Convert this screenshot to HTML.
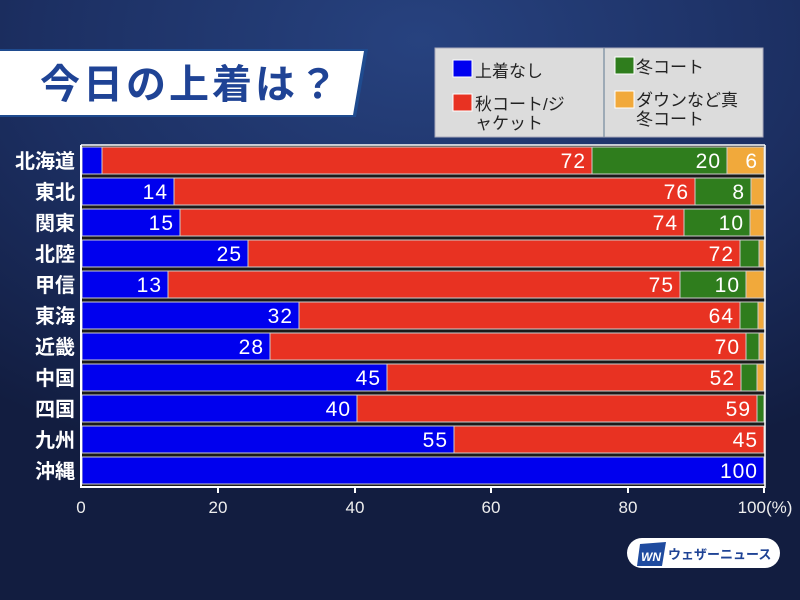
<!DOCTYPE html>
<html><head><meta charset="utf-8"><style>
body{margin:0;width:800px;height:600px;overflow:hidden;background:radial-gradient(ellipse 700px 450px at 420px 40px,#27427f 0%,#1c2f62 55%,#121d40 100%);font-family:"Liberation Sans","Noto Sans CJK JP",sans-serif;}
svg{position:absolute;left:0;top:0}
</style></head><body>
<svg width="800" height="600" xmlns="http://www.w3.org/2000/svg" font-family="Liberation Sans, Noto Sans CJK JP, sans-serif">
<polygon points="0,49 368,49 356,117 0,117" fill="#1f4b8f"/>
<polygon points="0,51 364,51 353,115 0,115" fill="#fff"/>
<text x="40" y="98" font-size="40" font-weight="bold" fill="#1f4395" letter-spacing="3">今日の上着は？</text>
<rect x="435" y="48" width="328" height="89" fill="#dcdcdc" stroke="#aab" stroke-width="1"/>
<line x1="604" y1="48" x2="604" y2="137" stroke="#8899aa" stroke-width="1.5"/>
<g font-size="17" fill="#222">
<rect x="453" y="60" width="19" height="17" fill="#0000f0" stroke="#fff"/><text x="475" y="77">上着なし</text>
<rect x="453" y="94" width="19" height="17" fill="#e83222" stroke="#fff"/><text x="475" y="110">秋コート/ジ</text><text x="475" y="129">ャケット</text>
<rect x="615" y="57" width="19" height="17" fill="#2f7d1d" stroke="#fff"/><text x="636" y="73">冬コート</text>
<rect x="615" y="91" width="19" height="17" fill="#f1a93b" stroke="#fff"/><text x="636" y="106">ダウンなど真</text><text x="636" y="125">冬コート</text>
</g>
<rect x="81" y="145" width="684" height="342" fill="#1a1a1a"/>
<g id="bars" stroke="#ccc" stroke-width="1"></g>
<g font-size="20" fill="#fff" text-anchor="end" font-weight="bold" id="lbl"></g>
<g font-size="21" fill="#fff" text-anchor="end" letter-spacing="1" id="val"></g>
<line x1="81" y1="145" x2="81" y2="488" stroke="#fff" stroke-width="2"/>
<line x1="80" y1="487" x2="765" y2="487" stroke="#fff" stroke-width="2"/>
<line x1="765" y1="145" x2="765" y2="488" stroke="#fff" stroke-width="1.5"/>
<line x1="81" y1="145" x2="765" y2="145" stroke="#fff" stroke-width="1.5"/>
<g stroke="#fff" stroke-width="2"><line x1="218" y1="487" x2="218" y2="493"/><line x1="355" y1="487" x2="355" y2="493"/><line x1="491" y1="487" x2="491" y2="493"/><line x1="628" y1="487" x2="628" y2="493"/><line x1="764" y1="487" x2="764" y2="493"/></g>
<g font-size="17" fill="#eee" text-anchor="middle"><text x="81" y="513">0</text><text x="218" y="513">20</text><text x="355" y="513">40</text><text x="491" y="513">60</text><text x="628" y="513">80</text><text x="765" y="513">100(%)</text></g>
<rect x="627" y="538" width="153" height="30" rx="15" fill="#fff"/>
<polygon points="640,544 666,542 662,566 637,566" fill="#1f4b9f"/>
<text x="641" y="561" font-size="12" font-weight="bold" fill="#fff" font-style="italic">WN</text>
<text x="668" y="559" font-size="13" font-weight="bold" fill="#1f4395">ウェザーニュース</text>
<script>
var rows=[["北海道",[102,592,727,764],["",72,20,6]],["東北",[174,695,751,764],[14,76,8,""]],["関東",[180,684,750,764],[15,74,10,""]],["北陸",[248,740,759,764],[25,72,"",""]],["甲信",[168,680,746,764],[13,75,10,""]],["東海",[299,740,758,764],[32,64,"",""]],["近畿",[270,746,759,764],[28,70,"",""]],["中国",[387,741,757,764],[45,52,"",""]],["四国",[357,757,764,764],[40,59,"",""]],["九州",[454,764,764,764],[55,45,"",""]],["沖縄",[764,764,764,764],[100,"","",""]]];
var cols=["#0000ee","#e83222","#2f7d1d","#f1a93b"],ns="http://www.w3.org/2000/svg";
function el(t,a,p,tx){var e=document.createElementNS(ns,t);for(var k in a)e.setAttribute(k,a[k]);if(tx!==undefined)e.textContent=tx;document.getElementById(p).appendChild(e);}
rows.forEach(function(r,i){var y=147+31*i,x=82;
el("text",{x:75,y:y+21},"lbl",r[0]);
r[1].forEach(function(e,j){if(e>x){el("rect",{x:x,y:y,width:e-x,height:27,fill:cols[j]},"bars");
if(r[2][j]!=="")el("text",{x:e-6,y:y+21},"val",r[2][j]);}x=e;});});
</script>
</svg>
</body></html>
